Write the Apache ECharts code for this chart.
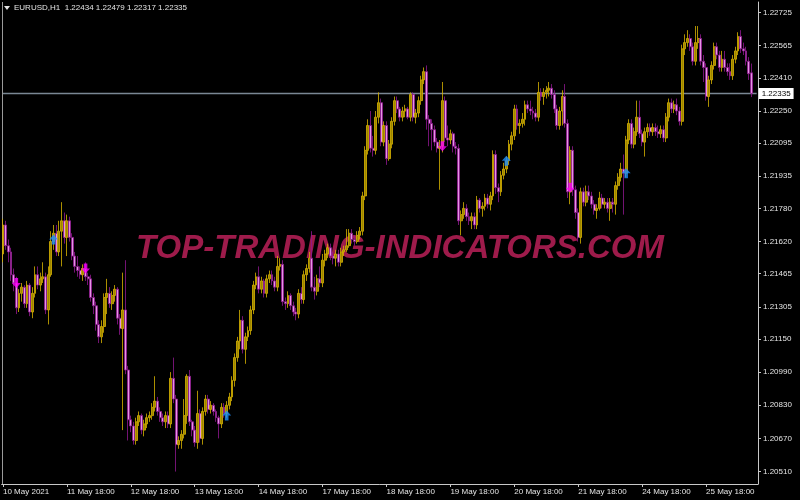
<!DOCTYPE html>
<html><head><meta charset="utf-8">
<script src="https://cdn.jsdelivr.net/npm/echarts@6/dist/echarts.min.js"></script>
<style>html,body{margin:0;padding:0;background:#000}#c{width:800px;height:500px}</style>
</head><body><div id="c"></div>
<script>
const headerText = 'EURUSD,H1  1.22434 1.22479 1.22317 1.22335';
const bidPrice = 1.22335;
const watermark = 'TOP-TRADING-INDICATORS.COM';

const opens = [
1.2156,1.2170,1.2160,1.2157,1.2146,1.2142,1.2130,1.2137,1.2140,1.2132,
1.2141,1.2128,1.2137,1.2146,1.2141,1.2144,1.2145,1.2129,1.2146,1.2162,
1.2166,1.2157,1.2167,1.2172,1.2164,1.2172,1.2164,1.2155,1.2150,1.2148,
1.2146,1.2149,1.2145,1.2144,1.2135,1.2131,1.2122,1.2116,1.2121,1.2135,
1.2137,1.2132,1.2136,1.2139,1.2125,1.2120,1.2129,1.2100,1.2076,1.2073,
1.2066,1.2075,1.2078,1.2071,1.2074,1.2077,1.2078,1.2082,1.2085,1.2080,
1.2077,1.2075,1.2078,1.2074,1.2096,1.2086,1.2064,1.2066,1.2069,1.2078,
1.2097,1.2075,1.2071,1.2065,1.2079,1.2067,1.2080,1.2086,1.2081,1.2083,
1.2080,1.2077,1.2074,1.2082,1.2079,1.2083,1.2087,1.2095,1.2106,1.2114,
1.2124,1.2110,1.2116,1.2119,1.2129,1.2141,1.2145,1.2139,1.2143,1.2137,
1.2144,1.2146,1.2143,1.2140,1.2150,1.2151,1.2133,1.2132,1.2136,1.2131,
1.2128,1.2127,1.2137,1.2134,1.2146,1.2149,1.2154,1.2140,1.2138,1.2144,
1.2142,1.2153,1.2156,1.2159,1.2155,1.2154,1.2156,1.2152,1.2157,1.2158,
1.2160,1.2166,1.2163,1.2162,1.2165,1.2167,1.2184,1.2206,1.2218,1.2207,
1.2206,1.2222,1.2229,1.2210,1.2218,1.2202,1.2209,1.2220,1.2230,1.2226,
1.2222,1.2225,1.2226,1.2222,1.2233,1.2222,1.2224,1.2230,1.2240,1.2244,
1.2221,1.2219,1.2216,1.2210,1.2207,1.2208,1.2230,1.2212,1.2211,1.2214,
1.2208,1.2207,1.2172,1.2175,1.2178,1.2174,1.2172,1.2174,1.2170,1.2182,
1.2178,1.2179,1.2183,1.2180,1.2184,1.2204,1.2188,1.2186,1.2194,1.2197,
1.2201,1.2209,1.2213,1.2226,1.2218,1.2219,1.2221,1.2228,1.2226,1.2225,
1.2224,1.2222,1.2234,1.2232,1.2234,1.2235,1.2236,1.2233,1.2226,1.2218,
1.2225,1.2232,1.2219,1.2186,1.2206,1.2187,1.2176,1.2164,1.2186,1.2181,
1.2186,1.2184,1.2180,1.2177,1.2178,1.2183,1.2180,1.2181,1.2178,1.2181,
1.2180,1.2189,1.2193,1.2197,1.2195,1.2211,1.2219,1.2209,1.2215,1.2222,
1.2214,1.2210,1.2215,1.2217,1.2215,1.2217,1.2215,1.2214,1.2216,1.2212,
1.2222,1.2229,1.2226,1.2228,1.2225,1.2220,1.2255,1.2258,1.2260,1.2256,
1.2249,1.2258,1.2260,1.2249,1.2246,1.2232,1.2240,1.2247,1.2256,1.2252,
1.2246,1.2250,1.2246,1.2244,1.2242,1.2250,1.2254,1.2261,1.2255,1.2254,
1.2249,1.22434];

const closes = [
1.2170,1.2160,1.2157,1.2146,1.2142,1.2130,1.2137,1.2140,1.2132,1.2141,
1.2128,1.2137,1.2146,1.2141,1.2144,1.2145,1.2129,1.2146,1.2162,1.2166,
1.2157,1.2167,1.2172,1.2164,1.2172,1.2164,1.2155,1.2150,1.2148,1.2146,
1.2149,1.2145,1.2144,1.2135,1.2131,1.2122,1.2116,1.2121,1.2135,1.2137,
1.2132,1.2136,1.2139,1.2125,1.2120,1.2129,1.2100,1.2076,1.2073,1.2066,
1.2075,1.2078,1.2071,1.2074,1.2077,1.2078,1.2082,1.2085,1.2080,1.2077,
1.2075,1.2078,1.2074,1.2096,1.2086,1.2064,1.2066,1.2069,1.2078,1.2097,
1.2075,1.2071,1.2065,1.2079,1.2067,1.2080,1.2086,1.2081,1.2083,1.2080,
1.2077,1.2074,1.2082,1.2079,1.2083,1.2087,1.2095,1.2106,1.2114,1.2124,
1.2110,1.2116,1.2119,1.2129,1.2141,1.2145,1.2139,1.2143,1.2137,1.2144,
1.2146,1.2143,1.2140,1.2150,1.2151,1.2133,1.2132,1.2136,1.2131,1.2128,
1.2127,1.2137,1.2134,1.2146,1.2149,1.2154,1.2140,1.2138,1.2144,1.2142,
1.2153,1.2156,1.2159,1.2155,1.2154,1.2156,1.2152,1.2157,1.2158,1.2160,
1.2166,1.2163,1.2162,1.2165,1.2167,1.2184,1.2206,1.2218,1.2207,1.2206,
1.2222,1.2229,1.2210,1.2218,1.2202,1.2209,1.2220,1.2230,1.2226,1.2222,
1.2225,1.2226,1.2222,1.2233,1.2222,1.2224,1.2230,1.2240,1.2244,1.2221,
1.2219,1.2216,1.2210,1.2207,1.2208,1.2230,1.2212,1.2211,1.2214,1.2208,
1.2207,1.2172,1.2175,1.2178,1.2174,1.2172,1.2174,1.2170,1.2182,1.2178,
1.2179,1.2183,1.2180,1.2184,1.2204,1.2188,1.2186,1.2194,1.2197,1.2201,
1.2209,1.2213,1.2226,1.2218,1.2219,1.2221,1.2228,1.2226,1.2225,1.2224,
1.2222,1.2234,1.2232,1.2234,1.2235,1.2236,1.2233,1.2226,1.2218,1.2225,
1.2232,1.2219,1.2186,1.2206,1.2187,1.2176,1.2164,1.2186,1.2181,1.2186,
1.2184,1.2180,1.2177,1.2178,1.2183,1.2180,1.2181,1.2178,1.2181,1.2180,
1.2189,1.2193,1.2197,1.2195,1.2211,1.2219,1.2209,1.2215,1.2222,1.2214,
1.2210,1.2215,1.2217,1.2215,1.2217,1.2215,1.2214,1.2216,1.2212,1.2222,
1.2229,1.2226,1.2228,1.2225,1.2220,1.2255,1.2258,1.2260,1.2256,1.2249,
1.2258,1.2260,1.2249,1.2246,1.2232,1.2240,1.2247,1.2256,1.2252,1.2246,
1.2250,1.2246,1.2244,1.2242,1.2250,1.2254,1.2261,1.2255,1.2254,1.2249,
1.2243,1.22335];

const highs = [
1.2173,1.2172,1.2163,1.2159,1.2149,1.2145,1.2139,1.2142,1.2141,1.2143,
1.2142,1.2140,1.2150,1.2150,1.2147,1.2152,1.2147,1.2150,1.2167,1.2170,
1.2170,1.2172,1.2181,1.2176,1.2175,1.2174,1.2166,1.2157,1.2155,1.2150,
1.2151,1.2152,1.2147,1.2146,1.2137,1.2133,1.2124,1.2124,1.2137,1.2144,
1.2140,1.2138,1.2141,1.2140,1.2127,1.2147,1.2153,1.2102,1.2078,1.2075,
1.2077,1.2080,1.2079,1.2076,1.2079,1.2080,1.2084,1.2097,1.2087,1.2082,
1.2079,1.2080,1.2080,1.2099,1.2106,1.2088,1.2068,1.2071,1.2086,1.2098,
1.2100,1.2076,1.2073,1.2090,1.2081,1.2082,1.2088,1.2088,1.2085,1.2084,
1.2081,1.2078,1.2084,1.2084,1.2085,1.2089,1.2097,1.2108,1.2116,1.2129,
1.2126,1.2118,1.2121,1.2131,1.2143,1.2147,1.2150,1.2145,1.2144,1.2146,
1.2148,1.2148,1.2145,1.2155,1.2154,1.2153,1.2135,1.2138,1.2137,1.2133,
1.2130,1.2139,1.2140,1.2148,1.2151,1.2157,1.2167,1.2145,1.2146,1.2150,
1.2156,1.2158,1.2161,1.2161,1.2157,1.2158,1.2158,1.2159,1.2160,1.2168,
1.2168,1.2168,1.2165,1.2167,1.2169,1.2186,1.2208,1.2221,1.2225,1.2213,
1.2225,1.2234,1.2231,1.2220,1.2220,1.2211,1.2222,1.2232,1.2232,1.2227,
1.2227,1.2228,1.2227,1.2234,1.2234,1.2226,1.2232,1.2242,1.2246,1.2247,
1.2223,1.2221,1.2218,1.2212,1.2211,1.2239,1.2232,1.2218,1.2216,1.2215,
1.2210,1.2209,1.2177,1.2181,1.2180,1.2176,1.2176,1.2176,1.2184,1.2183,
1.2181,1.2185,1.2185,1.2186,1.2206,1.2206,1.2190,1.2196,1.2200,1.2203,
1.2211,1.2215,1.2228,1.2228,1.2221,1.2224,1.2230,1.2230,1.2230,1.2227,
1.2226,1.2239,1.2236,1.2236,1.2237,1.2239,1.2238,1.2235,1.2228,1.2227,
1.2235,1.2238,1.2221,1.2208,1.2208,1.2189,1.2178,1.2188,1.2188,1.2189,
1.2189,1.2186,1.2182,1.2180,1.2186,1.2185,1.2183,1.2183,1.2183,1.2183,
1.2191,1.2195,1.2200,1.2204,1.2213,1.2221,1.2221,1.2217,1.2230,1.2230,
1.2216,1.2217,1.2219,1.2219,1.2219,1.2219,1.2218,1.2218,1.2218,1.2224,
1.2231,1.2231,1.2230,1.2231,1.2227,1.2257,1.2262,1.2264,1.2262,1.2258,
1.2266,1.2266,1.2262,1.2252,1.2248,1.2242,1.2249,1.2258,1.2258,1.2254,
1.2254,1.2254,1.2248,1.2248,1.2252,1.2256,1.2263,1.2264,1.2258,1.2256,
1.2251,1.22479];

const lows = [
1.2152,1.2158,1.2152,1.2143,1.2138,1.2127,1.2128,1.2133,1.2130,1.2130,
1.2126,1.2125,1.2135,1.2139,1.2138,1.2142,1.2127,1.2122,1.2145,1.2158,
1.2155,1.2155,1.2150,1.2161,1.2155,1.2162,1.2153,1.2147,1.2145,1.2144,
1.2143,1.2143,1.2141,1.2133,1.2127,1.2119,1.2113,1.2113,1.2118,1.2127,
1.2130,1.2129,1.2133,1.2122,1.2117,1.2071,1.2098,1.2066,1.2070,1.2064,
1.2064,1.2073,1.2069,1.2068,1.2072,1.2075,1.2076,1.2080,1.2078,1.2075,
1.2073,1.2072,1.2072,1.2072,1.2084,1.2051,1.2062,1.2062,1.2067,1.2074,
1.2073,1.2068,1.2063,1.2062,1.2065,1.2064,1.2078,1.2079,1.2079,1.2078,
1.2075,1.2067,1.2072,1.2077,1.2077,1.2081,1.2085,1.2092,1.2104,1.2110,
1.2108,1.2103,1.2114,1.2117,1.2127,1.2139,1.2137,1.2137,1.2135,1.2135,
1.2142,1.2141,1.2138,1.2138,1.2148,1.2131,1.2129,1.2130,1.2129,1.2126,
1.2124,1.2125,1.2132,1.2132,1.2143,1.2147,1.2138,1.2134,1.2136,1.2140,
1.2140,1.2150,1.2154,1.2153,1.2151,1.2150,1.2150,1.2150,1.2155,1.2157,
1.2159,1.2161,1.2160,1.2161,1.2163,1.2165,1.2182,1.2204,1.2205,1.2203,
1.2204,1.2219,1.2208,1.2208,1.2199,1.2201,1.2207,1.2218,1.2224,1.2220,
1.2220,1.2222,1.2221,1.2220,1.2220,1.2219,1.2222,1.2228,1.2238,1.2216,
1.2208,1.2206,1.2208,1.2205,1.2187,1.2205,1.2210,1.2208,1.2209,1.2205,
1.2204,1.2170,1.2165,1.2173,1.2172,1.2170,1.2168,1.2168,1.2168,1.2176,
1.2174,1.2177,1.2178,1.2177,1.2182,1.2185,1.2181,1.2184,1.2192,1.2195,
1.2199,1.2206,1.2211,1.2216,1.2214,1.2217,1.2218,1.2224,1.2223,1.2221,
1.2220,1.2220,1.2230,1.2228,1.2231,1.2232,1.2231,1.2224,1.2216,1.2216,
1.2218,1.2217,1.2183,1.2180,1.2184,1.2173,1.2162,1.2161,1.2179,1.2179,
1.2182,1.2178,1.2175,1.2173,1.2177,1.2178,1.2178,1.2176,1.2172,1.2176,
1.2175,1.2187,1.2191,1.2175,1.2193,1.2209,1.2207,1.2207,1.2213,1.2212,
1.2208,1.2203,1.2212,1.2213,1.2213,1.2213,1.2212,1.2212,1.2210,1.2210,
1.2220,1.2224,1.2224,1.2223,1.2218,1.2218,1.2252,1.2256,1.2254,1.2247,
1.2247,1.2255,1.2247,1.2239,1.2230,1.2227,1.2238,1.2245,1.2250,1.2244,
1.2244,1.2244,1.2242,1.2240,1.2240,1.2248,1.2252,1.2253,1.2252,1.2247,
1.2240,1.22317];

const tickIdx = [0,24,48,72,96,120,144,168,192,216,240,264];
const tickLabels = ['10 May 2021','11 May 18:00','12 May 18:00','13 May 18:00','14 May 18:00',
  '17 May 18:00','18 May 18:00','19 May 18:00','20 May 18:00','21 May 18:00','24 May 18:00','25 May 18:00'];
const priceTicks = [1.20510,1.20670,1.20830,1.20990,1.21150,1.21305,1.21465,1.21620,
  1.21780,1.21935,1.22095,1.22250,1.22410,1.22565,1.22725];

const upArrowIdx = [19,84,189,234];
const upArrowPrice = [1.2163,1.2078,1.2201,1.2195];
const downArrowIdx = [5,31,165,213];
const downArrowPrice = [1.2142,1.2149,1.2208,1.2188];

const slotCount = 284;
const categories = [];
for (let i = 0; i < slotCount; i++) categories.push(String(i));
const candles = opens.map((o, i) => [o, closes[i], lows[i], highs[i]]);
const FONT = 'Liberation Sans';
const TXT = '#e4e4e4';

const chart = echarts.init(document.getElementById('c'), null, {renderer: 'canvas'});
chart.setOption({
  backgroundColor: '#000000',
  animation: false,
  grid: {left: 0.667, right: 42, top: 2, bottom: 16, containLabel: false},
  xAxis: {
    type: 'category', data: categories, boundaryGap: true,
    axisLine: {show: true, lineStyle: {color: '#c8c8c8', width: 1}},
    axisTick: {show: true, alignWithLabel: true, length: 3,
      interval: (i) => tickIdx.includes(i), lineStyle: {color: '#c8c8c8'}},
    axisLabel: {show: true, interval: (i) => tickIdx.includes(i),
      formatter: (v, i) => { const k = tickIdx.indexOf(Number(v)); return k >= 0 ? tickLabels[k] : ''; },
      align: 'left', margin: 4, color: TXT, fontSize: 8, fontFamily: FONT},
    splitLine: {show: false}
  },
  yAxis: {
    type: 'value', position: 'right', min: 1.2045, max: 1.22776, scale: true,
    axisLine: {show: true, lineStyle: {color: '#c8c8c8', width: 1}},
    axisTick: {show: true, length: 3, customValues: priceTicks, lineStyle: {color: '#c8c8c8'}},
    axisLabel: {show: true, customValues: priceTicks, formatter: (v) => v.toFixed(5),
      margin: 5, color: TXT, fontSize: 8, fontFamily: FONT},
    splitLine: {show: false}
  },
  graphic: [
    {type: 'text', z: 0, x: 400, y: 249,
      style: {text: watermark, fill: '#9e1b4b', font: 'italic bold 33px "Liberation Sans"',
        textAlign: 'center', textVerticalAlign: 'middle'}},
    {type: 'line', z: 0, shape: {x1: 2.5, y1: 2, x2: 2.5, y2: 484},
      style: {stroke: '#9a9a9a', lineWidth: 1}},
    {type: 'polygon', z: 10, shape: {points: [[4, 6], [10, 6], [7, 10]]}, style: {fill: TXT}},
    {type: 'text', z: 10, x: 14, y: 4,
      style: {text: headerText, fill: TXT, font: '8px "Liberation Sans"'}}
  ],
  series: [
    {
      type: 'line', z: 2, silent: true, symbol: 'none', animation: false,
      data: [[0, bidPrice], [slotCount - 1, bidPrice]],
      lineStyle: {color: '#7a8794', width: 1.5, type: 'solid'},
      endLabel: {show: true, distance: 2, formatter: () => bidPrice.toFixed(5),
        backgroundColor: '#ffffff', color: '#000000', padding: [2, 3, 1, 3],
        fontSize: 8, fontFamily: FONT},
      emphasis: {disabled: true}
    },
    {
      type: 'candlestick', data: candles, barWidth: 2.4, z: 3,
      itemStyle: {color: '#9c8600', color0: '#e496e4', borderColor: '#d8b400',
        borderColor0: '#901890', borderWidth: 0.8},
      emphasis: {disabled: true}
    },
    {
      type: 'scatter', z: 5, symbol: 'path://M5,0L10,5L7,5L7,10L3,10L3,5L0,5Z',
      symbolSize: [9, 10], itemStyle: {color: '#1e90ff'},
      emphasis: {disabled: true},
      data: upArrowIdx.map((x, i) => [x, upArrowPrice[i]])
    },
    {
      type: 'scatter', z: 5, symbol: 'path://M3,0L7,0L7,5L10,5L5,10L0,5L3,5Z',
      symbolSize: [9, 10], itemStyle: {color: '#ff00ff'},
      emphasis: {disabled: true},
      data: downArrowIdx.map((x, i) => [x, downArrowPrice[i]])
    }
  ]
});
</script></body></html>
